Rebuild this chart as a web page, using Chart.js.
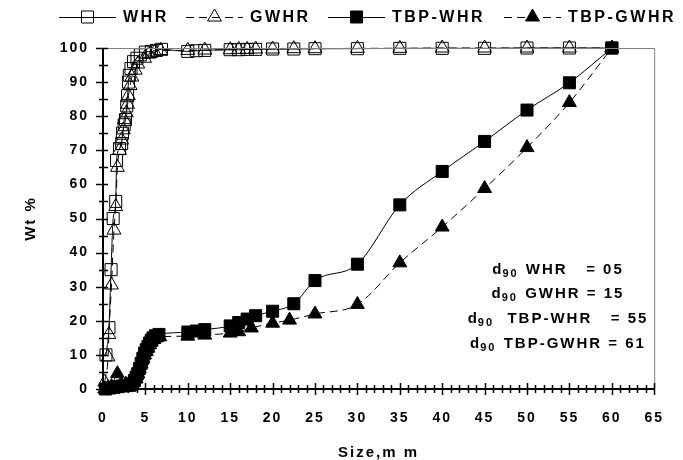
<!DOCTYPE html>
<html>
<head>
<meta charset="utf-8">
<script src="https://cdn.jsdelivr.net/npm/chart.js@4.4.1/dist/chart.umd.min.js"></script>
<style>
html, body { margin: 0; padding: 0; background: #fff; }
</style>
</head>
<body>
<canvas id="chart" width="683" height="460"></canvas>
<script>
// Size (mm) vs cumulative Wt %
const whrSize = [0.35, 0.7, 0.95, 1.2, 1.5, 1.6, 1.95, 2.2, 2.3, 2.5, 2.65, 2.8, 2.9, 3.0, 3.1, 3.3, 3.6, 4.0, 4.4, 5.0, 5.7, 6.3, 6.9,
    10, 11, 12, 15, 16, 17, 18, 20, 22.5, 25, 30, 35, 40, 45, 50, 55, 60];
const whrWt = [10, 18, 35, 50, 55, 67, 70.5, 72, 75, 77.5, 79, 83, 86, 90, 92, 94, 96, 97, 98, 98.8, 99, 99.3, 99.6,
    99, 99.2, 99.3, 99.5, 99.5, 99.6, 99.6, 99.7, 99.7, 99.8, 99.8, 99.9, 99.9, 99.9, 100, 100, 100];

const gwhrSize = [0.2, 0.6, 0.7, 1.0, 1.3, 1.5, 1.7, 1.95, 2.2, 2.4, 2.5, 2.75, 2.9, 3.0, 3.2, 3.4, 3.8, 4.1, 4.9, 5.4, 6.1, 6.8,
    10, 12, 15, 16, 17, 18, 20, 22.5, 25, 30, 35, 40, 45, 50, 55, 60];
const gwhrWt = [2, 9.4, 16, 30.5, 46.6, 53.5, 65, 70, 73, 76, 79, 81, 83.5, 86, 89, 91.5, 93.5, 95.3, 97, 98.2, 98.8, 99.3,
    99.3, 99.4, 99.5, 99.6, 99.6, 99.7, 99.7, 99.8, 99.8, 99.9, 99.9, 100, 100, 100, 100, 100];

const tbpWhrSize = [0.3, 0.8, 1.3, 1.8, 2.3, 2.8, 3.2, 3.5, 3.7, 3.9, 4.1, 4.3, 4.5, 4.7, 4.9, 5.1, 5.3, 5.5, 5.7, 5.9, 6.2, 6.6,
    10, 11, 12, 15, 16, 17, 18, 20, 22.5, 25, 30, 35, 40, 45, 50, 55, 60];
const tbpWhrWt = [0, 0.3, 0.5, 0.7, 0.9, 1.0, 1.1, 1.5, 2.5, 3.5, 4.5, 6, 7.5, 9, 10.5, 11.5, 12.5, 13.5, 14.3, 15, 15.6, 16,
    16.7, 17, 17.4, 18.5, 19.5, 20.5, 21.5, 22.8, 25, 31.8, 36.6, 54, 63.8, 72.6, 81.8, 89.8, 100];

const tbpGwhrSize = [0.2, 0.6, 1.0, 1.7, 2.2, 2.7, 3.2, 3.6, 3.9, 4.1, 4.3, 4.5, 4.7, 4.9, 5.1, 5.3, 5.5, 5.7, 6.0, 6.3, 6.7,
    10, 12, 15, 16, 17.5, 20, 22, 25, 30, 35, 40, 45, 50, 55, 60];
const tbpGwhrWt = [0, 0.4, 0.7, 4.5, 1.2, 1.4, 1.6, 2, 3, 4.5, 6, 7.5, 9, 10, 11, 12, 13, 13.8, 14.5, 15, 15.3,
    15.5, 15.8, 16.4, 16.8, 17.9, 19.3, 20.2, 22, 24.8, 37, 47.5, 58.8, 70.8, 84, 100];

const seriesNames = ['WHR', 'GWHR', 'TBP-WHR', 'TBP-GWHR'];
const xTicks = { min: 0, max: 65, step: 5 };
const yTicks = { min: 0, max: 100, step: 10 };

// d90 note
const d90Names = [' WHR   = ', ' GWHR = ', '  TBP-WHR   = ', ' TBP-GWHR = '];
const d90Values = ['05', '15', '55', '61'];

const FONT = "'Liberation Sans', Arial, sans-serif";

function pts(xs, ys) {
    return xs.map((x, i) => ({ x: x, y: ys[i] }));
}

function makeSet(label, xs, ys, style, filled, dashed) {
    return {
        label: label,
        data: pts(xs, ys),
        showLine: true,
        borderColor: '#000',
        borderWidth: 1,
        borderDash: dashed ? [8, 5] : [],
        cubicInterpolationMode: 'monotone',
        pointStyle: style,
        pointRadius: style === 'rect' ? 8.5 : 8,
        pointBorderWidth: 1,
        pointBorderColor: '#000',
        pointBackgroundColor: filled ? '#000' : 'rgba(0,0,0,0)',
        clip: false
    };
}

// axes frame, tick marks, legend and d90 note
const decorations = {
    id: 'decorations',
    beforeDraw(chart) {
        chart.ctx.letterSpacing = '2px';
    },
    afterDraw(chart) {
        const ctx = chart.ctx;
        const a = chart.chartArea;
        const xs = chart.scales.x, ys = chart.scales.y;
        ctx.save();
        ctx.setLineDash([]);
        // top and right frame
        ctx.strokeStyle = '#7f7f7f';
        ctx.lineWidth = 1;
        ctx.beginPath();
        ctx.moveTo(a.left, a.top + 0.5);
        ctx.lineTo(a.right + 0.5, a.top + 0.5);
        ctx.lineTo(a.right + 0.5, a.bottom);
        ctx.stroke();
        // axes
        ctx.strokeStyle = '#000';
        ctx.lineWidth = 2;
        ctx.beginPath();
        ctx.moveTo(a.left, a.top);
        ctx.lineTo(a.left, a.bottom);
        ctx.lineTo(a.right, a.bottom);
        ctx.stroke();
        // x ticks every 1 mm, y ticks every 5 %
        ctx.lineWidth = 1.5;
        ctx.beginPath();
        for (let v = xTicks.min; v <= xTicks.max; v++) {
            const px = Math.round(xs.getPixelForValue(v)) + 0.5;
            const major = v % xTicks.step === 0;
            ctx.moveTo(px, a.bottom - (major ? 6 : 4));
            ctx.lineTo(px, a.bottom + (major ? 6 : 4));
        }
        for (let v = yTicks.min; v <= yTicks.max; v += 5) {
            const py = Math.round(ys.getPixelForValue(v)) + 0.5;
            const major = v % yTicks.step === 0;
            ctx.moveTo(a.left - (major ? 7 : 4), py);
            ctx.lineTo(a.left + 5, py);
        }
        ctx.stroke();

        // legend: line sample with the marker in its middle
        const legendY = 17;
        const legendX = [59, 186, 328, 504];
        const lineLen = 57;
        ctx.font = 'bold 16px ' + FONT;
        ctx.letterSpacing = '2.5px';
        ctx.textBaseline = 'middle';
        ctx.textAlign = 'left';
        chart.data.datasets.forEach((ds, i) => {
            const x0 = legendX[i];
            ctx.strokeStyle = '#000';
            ctx.lineWidth = 1;
            ctx.setLineDash(ds.borderDash);
            ctx.beginPath();
            ctx.moveTo(x0, legendY + 0.5);
            ctx.lineTo(x0 + lineLen, legendY + 0.5);
            ctx.stroke();
            ctx.setLineDash([]);
            ctx.fillStyle = ds.pointBackgroundColor;
            Chart.helpers.drawPoint(ctx, {
                pointStyle: ds.pointStyle,
                radius: ds.pointRadius,
                borderWidth: 1,
                rotation: 0
            }, x0 + lineLen / 2, legendY);
            ctx.fillStyle = '#000';
            ctx.fillText(seriesNames[i], x0 + lineLen + 7, legendY + 1);
        });

        // d90 note
        const noteX = 558;
        const noteY = [270, 294, 319, 344];
        ctx.letterSpacing = '2px';
        d90Names.forEach((name, i) => {
            ctx.font = 'bold 15px ' + FONT;
            const dW = ctx.measureText('d').width;
            const rest = name + d90Values[i];
            const restW = ctx.measureText(rest).width;
            ctx.font = 'bold 11px ' + FONT;
            const subW = ctx.measureText('90').width;
            const total = dW + subW + restW;
            let x = noteX - total / 2;
            const y = noteY[i];
            ctx.fillStyle = '#000';
            ctx.font = 'bold 15px ' + FONT;
            ctx.fillText('d', x, y);
            x += dW;
            ctx.font = 'bold 11px ' + FONT;
            ctx.fillText('90', x - 1, y + 4);
            x += subW;
            ctx.font = 'bold 15px ' + FONT;
            ctx.fillText(rest, x, y);
        });
        ctx.restore();
    }
};

new Chart(document.getElementById('chart'), {
    type: 'scatter',
    data: {
        datasets: [
            makeSet(seriesNames[0], whrSize, whrWt, 'rect', false, false),
            makeSet(seriesNames[1], gwhrSize, gwhrWt, 'triangle', false, true),
            makeSet(seriesNames[2], tbpWhrSize, tbpWhrWt, 'rect', true, false),
            makeSet(seriesNames[3], tbpGwhrSize, tbpGwhrWt, 'triangle', true, true)
        ]
    },
    options: {
        responsive: false,
        animation: false,
        layout: { padding: { top: 48, right: 15, left: 0, bottom: 0 } },
        plugins: { legend: { display: false }, tooltip: { enabled: false } },
        scales: {
            x: {
                type: 'linear',
                min: xTicks.min,
                max: xTicks.max,
                grid: { display: false, drawTicks: false },
                border: { display: false },
                ticks: { stepSize: xTicks.step, padding: 21, color: '#000', font: { family: FONT, size: 14, weight: 'bold' } },
                title: { display: true, text: 'Size,m m', color: '#000', padding: { top: 0, bottom: -2 },
                    font: { family: FONT, size: 15, weight: 'bold' } },
                afterFit(scale) { scale.height = 71; }
            },
            y: {
                min: yTicks.min,
                max: yTicks.max,
                grid: { display: false, drawTicks: false },
                border: { display: false },
                ticks: { stepSize: yTicks.step, padding: 14, color: '#000', font: { family: FONT, size: 14, weight: 'bold' } },
                title: { display: true, text: 'Wt %', color: '#000', padding: { top: 22, bottom: 0 },
                    font: { family: FONT, size: 15, weight: 'bold' } },
                afterFit(scale) { scale.width = 103; }
            }
        }
    },
    plugins: [decorations]
});
</script>
</body>
</html>
